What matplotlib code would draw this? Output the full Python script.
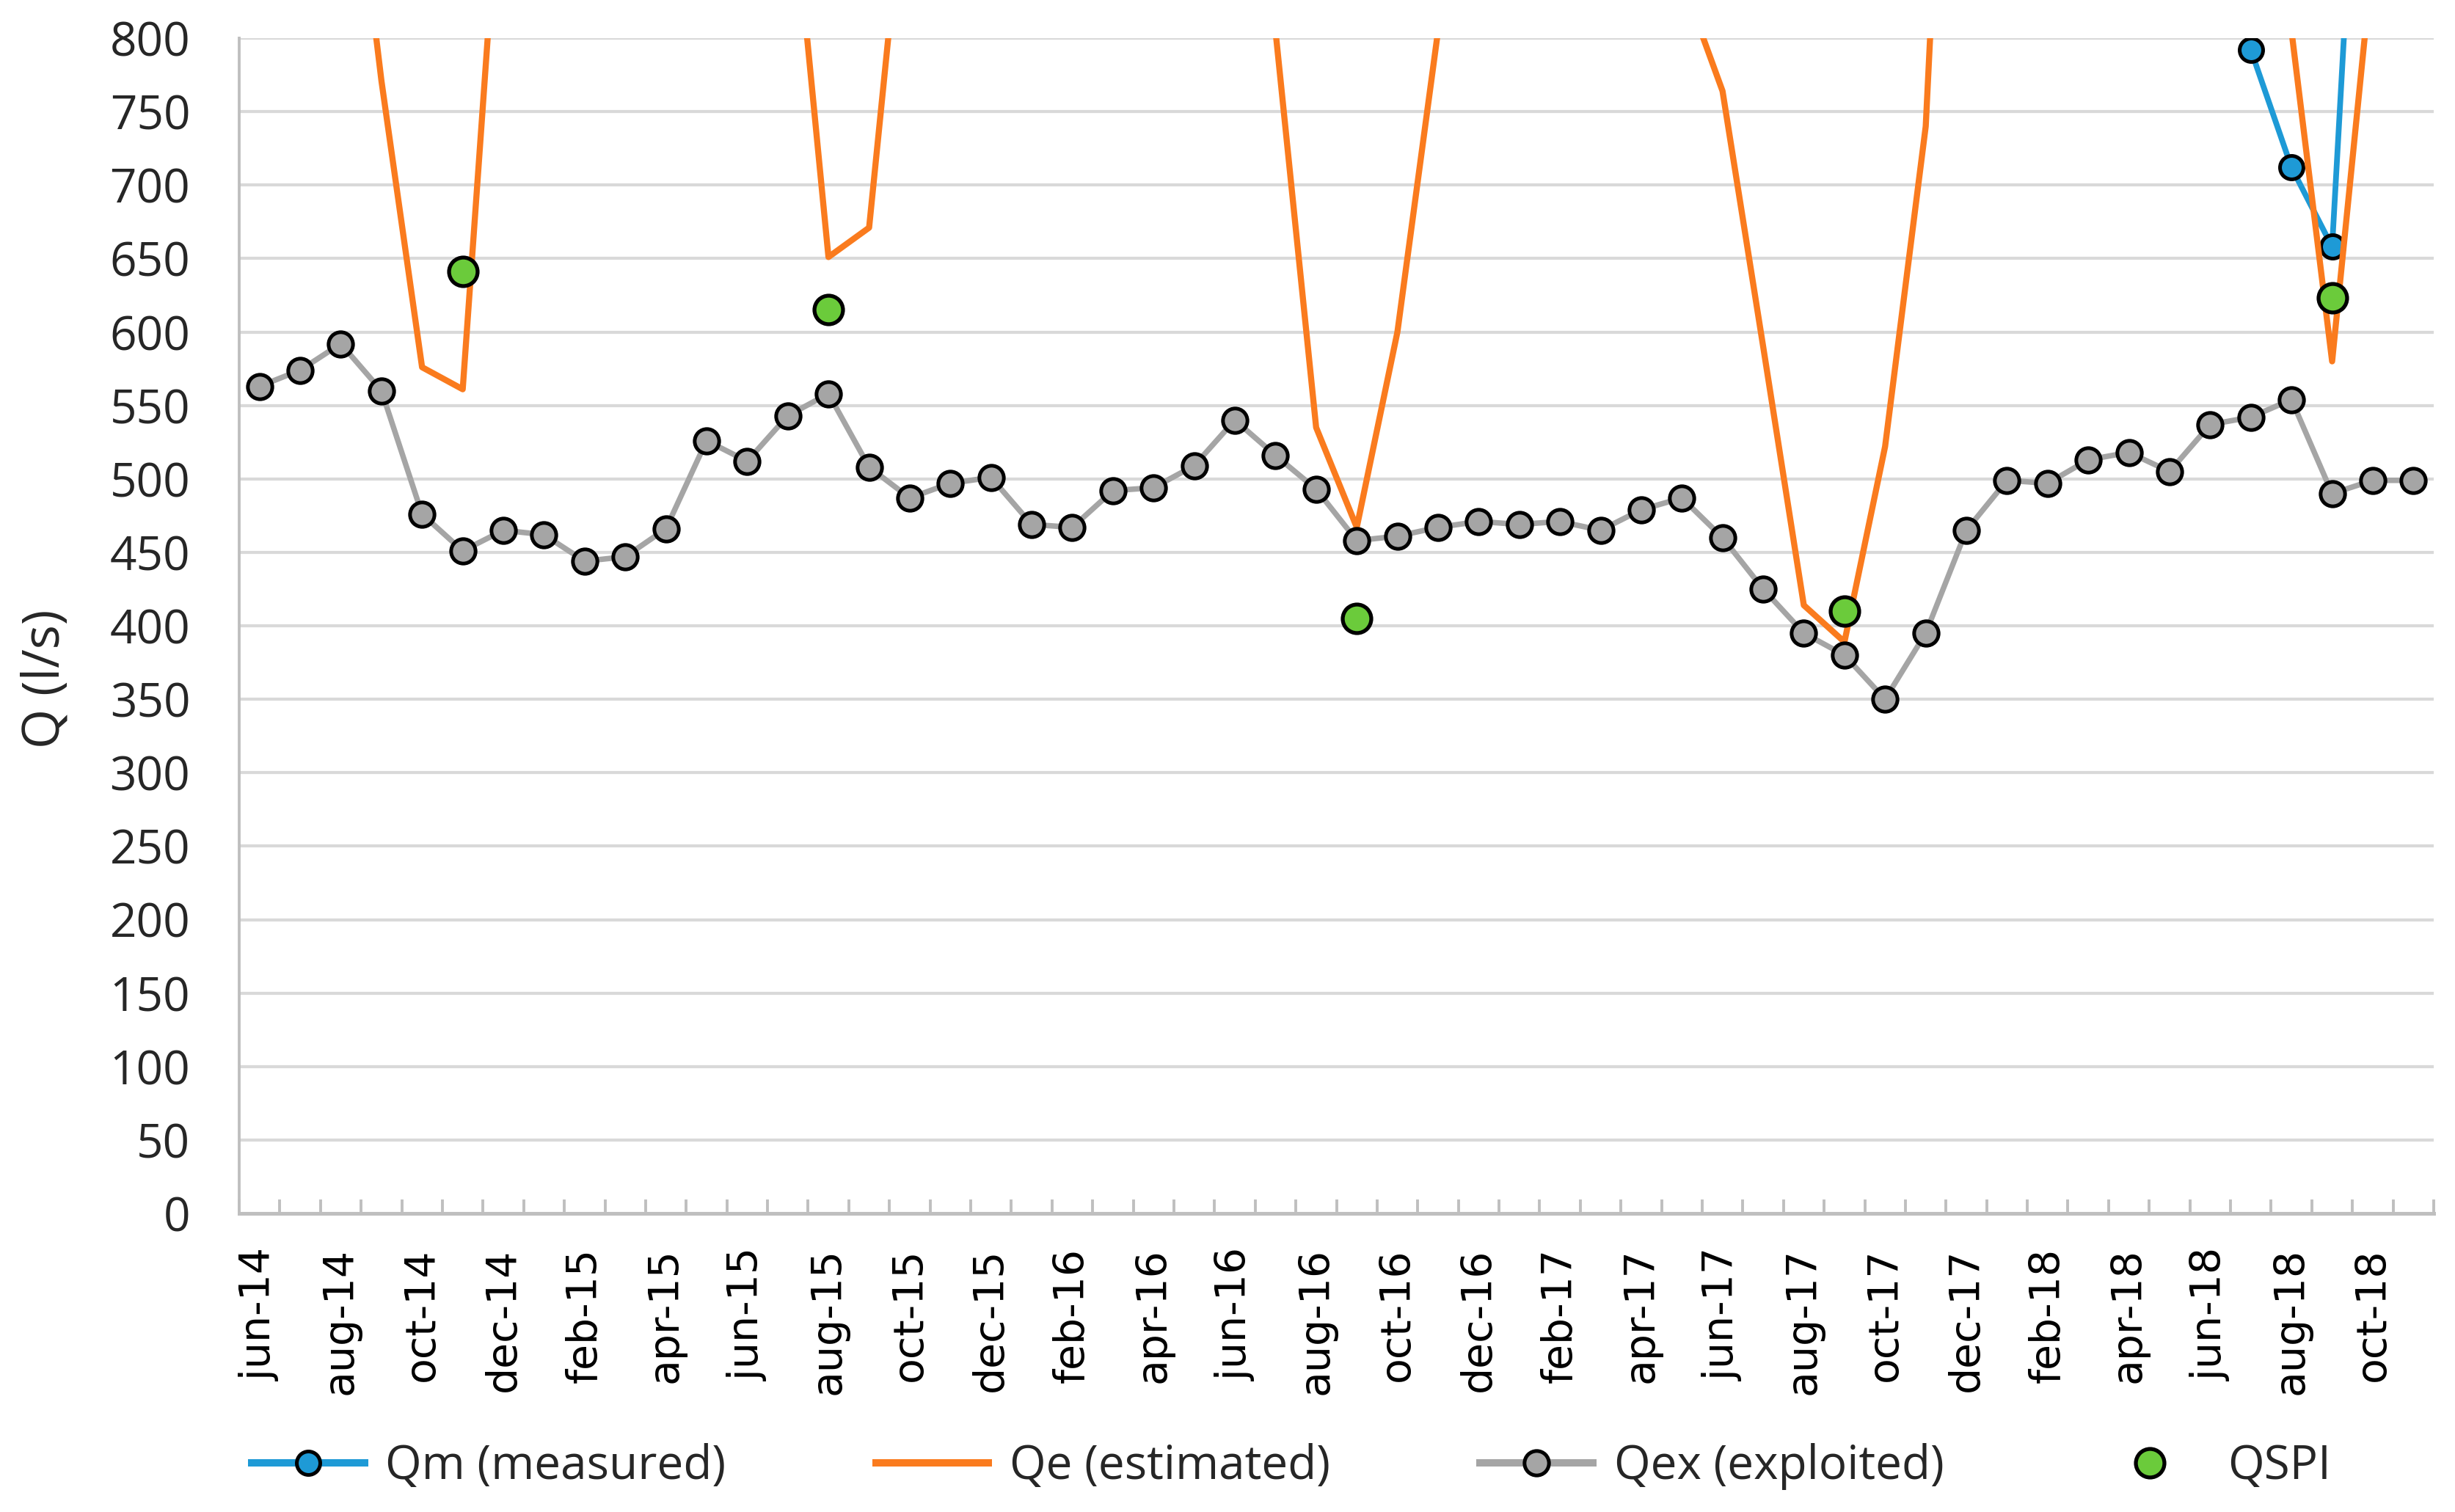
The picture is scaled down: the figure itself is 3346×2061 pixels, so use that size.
import numpy as np
import matplotlib
matplotlib.use("Agg")
import matplotlib.pyplot as plt
from matplotlib.lines import Line2D

nan = np.nan

# ---------------- data ----------------
months = ["jun-14", "jul-14", "aug-14", "sep-14", "oct-14", "nov-14", "dec-14",
          "jan-15", "feb-15", "mar-15", "apr-15", "may-15", "jun-15", "jul-15",
          "aug-15", "sep-15", "oct-15", "nov-15", "dec-15",
          "jan-16", "feb-16", "mar-16", "apr-16", "may-16", "jun-16", "jul-16",
          "aug-16", "sep-16", "oct-16", "nov-16", "dec-16",
          "jan-17", "feb-17", "mar-17", "apr-17", "may-17", "jun-17", "jul-17",
          "aug-17", "sep-17", "oct-17", "nov-17", "dec-17",
          "jan-18", "feb-18", "mar-18", "apr-18", "may-18", "jun-18", "jul-18",
          "aug-18", "sep-18", "oct-18", "nov-18"]

q_measured = [nan] * 49 + [792, 712, 658, 1150, nan]

q_estimated = [1100, 1100, 1000, 771, 576, 561, 950,
               1100, 1100, 1100, 1100, 1100, 1100, 935,
               651, 671, 945, 1100, 1100,
               1100, 1100, 1100, 1100, 1100, 1100, 805,
               535, 467, 600, 805, 1100,
               1100, 1100, 1100, 1100, 840, 764, 590,
               414, 389, 522, 740, 1300,
               1100, 1100, 1100, 1100, 1100, 1100, 1100,
               805, 580, 855, 1100]

q_exploited = [563, 574, 592, 560, 476, 451, 465,
               462, 444, 447, 466, 526, 512, 543,
               558, 508, 487, 497, 501,
               469, 467, 492, 494, 509, 540, 516,
               493, 458, 461, 467, 471,
               469, 471, 465, 479, 487, 460, 425,
               395, 380, 350, 395, 465,
               499, 497, 513, 518, 505, 537, 542,
               554, 490, 499, 499]

q_spi = [nan] * 54
q_spi[5] = 641
q_spi[14] = 615
q_spi[27] = 405
q_spi[39] = 410
q_spi[51] = 623

series_names = ["Qm (measured)", "Qe (estimated)", "Qex (exploited)", "QSPI"]
y_ticks = list(range(0, 801, 50))

# ---------------- style ----------------
C_BLUE = "#1E9AD6"
C_ORANGE = "#FA7B1E"
C_GRAY = "#A5A5A5"
C_GREEN = "#6BCB3B"
C_GRID = "#D9D9D9"
C_AXIS = "#BFBFBF"

W, H, DPI = 3346, 2061, 200
fig = plt.figure(figsize=(W / DPI, H / DPI), dpi=DPI)
fig.patch.set_facecolor("white")

L, R, T, B = 326, 3317, 52, 1654
ax = fig.add_axes([L / W, 1 - B / H, (R - L) / W, (B - T) / H])

x = np.arange(len(months))

l1, = ax.plot(x, q_measured, color=C_BLUE, lw=2.8, marker="o", ms=11.5,
              mfc=C_BLUE, mec="black", mew=1.8, zorder=3, label=series_names[0])
l2, = ax.plot(x, q_estimated, color=C_ORANGE, lw=3.0, zorder=4,
              label=series_names[1])
l3, = ax.plot(x, q_exploited, color=C_GRAY, lw=2.7, marker="o", ms=12,
              mfc=C_GRAY, mec="black", mew=1.8, zorder=5, label=series_names[2])
l4, = ax.plot(x, q_spi, ls="none", marker="o", ms=14,
              mfc=C_GREEN, mec="black", mew=1.9, zorder=6, label=series_names[3])

ax.set_xlim(-0.5, len(months) - 0.5)
ax.set_ylim(0, 800)

# grid
ax.set_yticks(y_ticks)
ax.yaxis.grid(True, color=C_GRID, lw=1.5, zorder=0)
ax.set_axisbelow(True)
ax.tick_params(axis="y", length=0, pad=24,
               labelsize=23, labelcolor="#262626")
for lab in ax.get_yticklabels():
    lab.set_family("Open Sans")

# x axis: labels every other month, boundary tick marks pointing inward
ax.set_xticks(x[::2])
ax.set_xticklabels(months[::2], rotation=90, family="DejaVu Sans",
                   fontsize=20.5, color="black")
ax.tick_params(axis="x", which="major", length=0, pad=17)
ax.set_xticks(np.arange(-0.5, len(months), 1.0), minor=True)
ax.tick_params(axis="x", which="minor", direction="in", length=7,
               width=1.4, color=C_AXIS)

for s in ["top", "right"]:
    ax.spines[s].set_visible(False)
ax.spines["left"].set_color(C_AXIS)
ax.spines["left"].set_linewidth(1.4)
ax.spines["bottom"].set_color(C_AXIS)
ax.spines["bottom"].set_linewidth(1.8)

ax.set_ylabel("Q (l/s)", family="Open Sans", fontsize=25, color="#262626",
              va="center")
ax.yaxis.set_label_coords(-0.088, 0.455)

# legend (handles drawn a bit bolder, as in the reference)
h1 = Line2D([], [], color=C_BLUE, lw=3.6, marker="o", ms=11.5,
            mfc=C_BLUE, mec="black", mew=1.8)
h2 = Line2D([], [], color=C_ORANGE, lw=3.6)
h3 = Line2D([], [], color=C_GRAY, lw=3.6, marker="o", ms=12,
            mfc=C_GRAY, mec="black", mew=1.8)
h4 = Line2D([], [], ls="none", marker="o", ms=14,
            mfc=C_GREEN, mec="black", mew=1.9)
leg = fig.legend(handles=[h1, h2, h3, h4], labels=series_names,
                 loc="center", ncol=4,
                 bbox_to_anchor=(0.526, 0.03), frameon=False,
                 prop={"family": "Open Sans", "size": 23},
                 handlelength=2.4, handletextpad=0.45, columnspacing=3.2)
for t in leg.get_texts():
    t.set_color("#262626")

fig.savefig("out.png", dpi=DPI, facecolor="white")
